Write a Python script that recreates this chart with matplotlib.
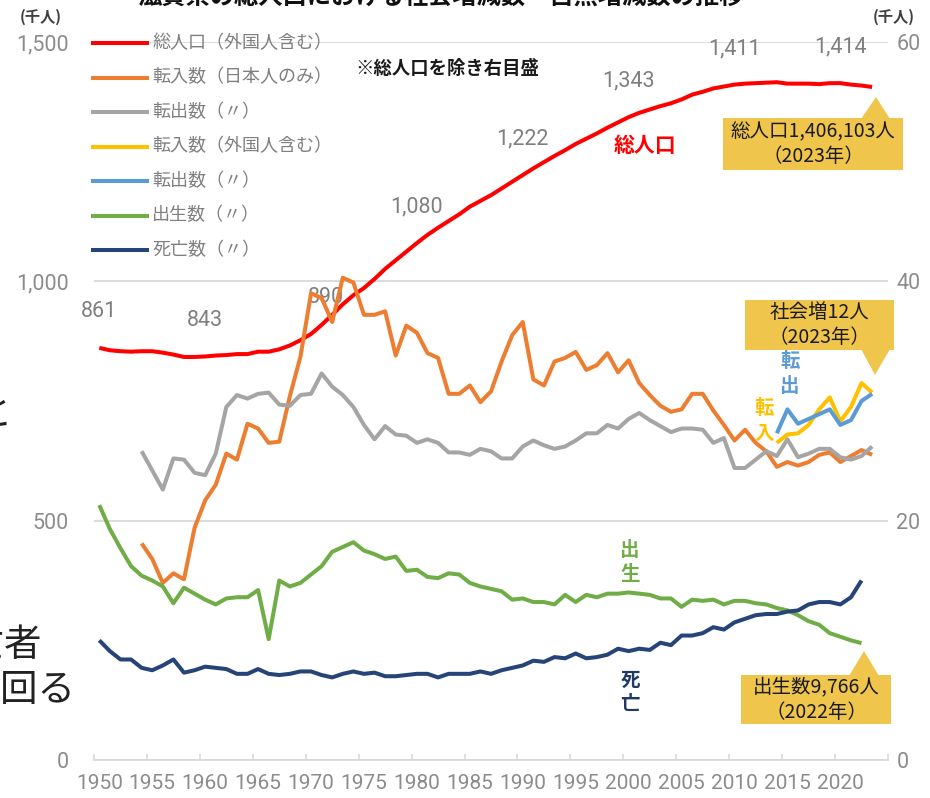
import matplotlib
matplotlib.use('Agg')
import matplotlib.pyplot as plt
from matplotlib.lines import Line2D
from matplotlib.patches import Polygon, Rectangle

plt.rcParams['font.family'] = ['Noto Sans CJK JP', 'DejaVu Sans']

# ---------------- data (thousands) ----------------
years_pop = list(range(1950, 2024))
total_pop = [861, 856, 854, 853, 854, 854, 851, 847, 842, 842,
             843, 845, 846, 848, 848, 853, 853, 858, 866, 877,
             890, 909, 930, 952, 971, 986, 1005, 1026, 1044, 1062,
             1080, 1097, 1112, 1126, 1140, 1156, 1168, 1180, 1194, 1208,
             1222, 1236, 1249, 1262, 1274, 1287, 1298, 1309, 1321, 1332,
             1343, 1352, 1359, 1366, 1372, 1380, 1390, 1396, 1403, 1407,
             1411, 1413, 1414, 1415, 1416, 1413, 1413, 1413, 1412, 1414,
             1414, 1411, 1409, 1406]

years_mig = list(range(1954, 2024))
in_jp = [18.1, 16.8, 14.8, 15.6, 15.1, 19.4,
         21.7, 23.0, 25.6, 25.1, 28.1, 27.7, 26.5, 26.6, 30.4, 33.7,
         39.0, 38.6, 36.6, 40.3, 39.9, 37.2, 37.2, 37.5, 33.8, 36.3,
         35.7, 34.0, 33.6, 30.6, 30.6, 31.3, 29.9, 30.8, 33.3, 35.5,
         36.6, 31.8, 31.3, 33.3, 33.6, 34.1, 32.6, 33.0, 34.0, 32.4,
         33.4, 31.5, 30.5, 29.6, 29.1, 29.3, 30.6, 30.6, 29.2, 28.0,
         26.7, 27.6, 26.5, 25.8, 24.5, 24.9, 24.6, 24.9, 25.5, 25.7,
         24.9, 25.4, 25.9, 25.5]
out_jp = [25.8, 24.2, 22.6, 25.2, 25.1, 24.0,
          23.8, 25.6, 29.5, 30.5, 30.2, 30.6, 30.7, 29.7, 29.6, 30.5,
          30.6, 32.3, 31.2, 30.5, 29.5, 28.0, 26.8, 27.9, 27.2, 27.1,
          26.5, 26.8, 26.5, 25.7, 25.7, 25.5, 26.0, 25.8, 25.2, 25.2,
          26.2, 26.7, 26.3, 26.0, 26.2, 26.7, 27.3, 27.3, 28.0, 27.7,
          28.5, 29.0, 28.4, 27.9, 27.4, 27.7, 27.7, 27.6, 26.5, 26.9,
          24.4, 24.4, 25.1, 25.8, 25.4, 26.8, 25.3, 25.6, 26.0, 26.0,
          25.3, 25.1, 25.4, 26.2]

years_all = list(range(2014, 2024))
in_all = [26.5, 27.2, 27.3, 28.0, 29.3, 30.3, 28.3, 29.5, 31.5, 30.7]
out_all = [27.3, 29.3, 28.1, 28.5, 28.9, 29.3, 28.0, 28.4, 30.0, 30.6]

years_vital = list(range(1950, 2023))
births = [21.3, 19.3, 17.7, 16.2, 15.4, 15.0, 14.5, 13.1, 14.4, 13.9,
          13.4, 13.0, 13.5, 13.6, 13.6, 14.2, 10.1, 15.0, 14.5, 14.8,
          15.5, 16.2, 17.4, 17.8, 18.2, 17.5, 17.2, 16.8, 17.0, 15.8,
          15.9, 15.3, 15.2, 15.6, 15.5, 14.8, 14.5, 14.3, 14.1, 13.4,
          13.5, 13.2, 13.2, 13.0, 13.8, 13.2, 13.8, 13.6, 13.9, 13.9,
          14.0, 13.9, 13.8, 13.5, 13.5, 12.8, 13.4, 13.3, 13.4, 13.0,
          13.3, 13.3, 13.1, 13.0, 12.7, 12.5, 12.1, 11.6, 11.3, 10.6,
          10.3, 10.0, 9.766]
deaths = [10.0, 9.1, 8.4, 8.4, 7.7, 7.5, 7.9, 8.4, 7.3, 7.5,
          7.8, 7.7, 7.6, 7.2, 7.2, 7.6, 7.2, 7.1, 7.2, 7.4,
          7.4, 7.1, 6.9, 7.2, 7.4, 7.2, 7.3, 7.0, 7.0, 7.1,
          7.2, 7.2, 6.9, 7.2, 7.2, 7.2, 7.4, 7.2, 7.5, 7.7,
          7.9, 8.3, 8.2, 8.6, 8.5, 8.9, 8.5, 8.6, 8.8, 9.3,
          9.1, 9.3, 9.2, 9.8, 9.6, 10.4, 10.4, 10.6, 11.1, 10.9,
          11.5, 11.8, 12.1, 12.2, 12.2, 12.4, 12.5, 13.0, 13.2, 13.2,
          13.0, 13.6, 15.0]

label_years = [1950, 1960, 1970, 1980, 1990, 2000, 2010, 2020]
legend_labels = ['総人口（外国人含む）', '転入数（日本人のみ）', '転出数（〃）',
                 '転入数（外国人含む）', '転出数（〃）', '出生数（〃）', '死亡数（〃）']
x_tick_years = list(range(1950, 2021, 5))
left_ticks = [0, 500, 1000, 1500]
right_ticks = [0, 20, 40, 60]

colors = ['#FF0000', '#ED7D31', '#A5A5A5', '#FFC000', '#5B9BD5', '#70AD47', '#264478']

# ---------------- figure ----------------
W, H = 930, 798
fig = plt.figure(figsize=(W / 100, H / 100), dpi=100)


def fx(x):
    return x / W


def fy(y):
    return 1 - y / H


NUM = dict(family=['Roboto', 'DejaVu Sans'], fontweight='normal')
TICK_GRAY = '#8c8c8c'

ax = fig.add_axes([fx(94), fy(760), (888 - 94) / W, (760 - 42) / H])
ax2 = ax.twinx()
ax.set_xlim(1949.5, 2024.5)
ax.set_ylim(0, 1500)
ax2.set_ylim(0, 60)

for a in (ax, ax2):
    for s in a.spines.values():
        s.set_visible(False)
ax.spines['bottom'].set_visible(True)
ax.spines['bottom'].set_color('#d9d9d9')
ax.spines['bottom'].set_linewidth(1.3)

ax.set_yticks(left_ticks)
ax.set_yticklabels([f'{v:,}' for v in left_ticks], fontsize=15.5, color=TICK_GRAY, **NUM)
ax.tick_params(axis='y', length=0, pad=18)
ax.yaxis.grid(True, color='#d9d9d9', lw=1.3)
ax.set_axisbelow(True)

ax2.set_yticks(right_ticks)
ax2.set_yticklabels([str(v) for v in right_ticks], fontsize=15.5, color=TICK_GRAY, **NUM)
ax2.tick_params(axis='y', length=0, pad=6)

ax.set_xticks(x_tick_years)
ax.set_xticklabels([str(y) for y in x_tick_years], fontsize=15, color=TICK_GRAY, **NUM)
ax.set_xticks([1949.5 + 5 * k for k in range(16)], minor=True)
ax.tick_params(axis='x', which='major', length=0, pad=10)
ax.tick_params(axis='x', which='minor', length=4, width=1.2, color='#d9d9d9', direction='in')

LW = 2.9
kw = dict(lw=LW, solid_joinstyle='round', solid_capstyle='butt')
ax.plot(years_pop, total_pop, color=colors[0], zorder=3, **kw)
ax2.plot(years_mig, in_jp, color=colors[1], **kw)
ax2.plot(years_mig, out_jp, color=colors[2], **kw)
ax2.plot(years_all, in_all, color=colors[3], **kw)
ax2.plot(years_all, out_all, color=colors[4], **kw)
ax2.plot(years_vital, births, color=colors[5], **kw)
ax2.plot(years_vital, deaths, color=colors[6], **kw)

# data labels on total population
for yr in label_years:
    v = total_pop[years_pop.index(yr)]
    dx = 15 if yr == 1970 else 0
    ax.annotate(f'{v:,}', (yr, v), xytext=(dx, 36), textcoords='offset pixels',
                ha='center', va='center', fontsize=15.5, color='#7f7f7f', **NUM)

# legend (manual)
for i, (lab, c) in enumerate(zip(legend_labels, colors)):
    y = 43 + i * 34.5
    fig.add_artist(Line2D([fx(93), fx(147)], [fy(y), fy(y)], color=c, lw=LW,
                          transform=fig.transFigure))
    fig.text(fx(152), fy(y), lab, ha='left', va='center', fontsize=13, color='#7f7f7f')

fig.text(fx(355), fy(68), '※総人口を除き右目盛', ha='left', va='center',
         fontsize=13.2, fontweight='bold', color='#1a1a1a')

# axis unit labels
fig.text(fx(41), fy(17), '(千人)', ha='center', va='center', fontsize=11,
         fontweight='bold', color='#404040')
fig.text(fx(894), fy(17), '(千人)', ha='center', va='center', fontsize=11,
         fontweight='bold', color='#404040')

# in-chart series labels
fig.text(fx(645), fy(145), '総人口', ha='center', va='center', fontsize=15,
         fontweight='bold', color=colors[0])
for ch, (x, y) in zip('転出', [(790, 362), (790, 387)]):
    fig.text(fx(x), fy(y), ch, ha='center', va='center', fontsize=14, fontweight='bold', color=colors[4])
for ch, (x, y) in zip('転入', [(764, 408), (764, 434)]):
    fig.text(fx(x), fy(y), ch, ha='center', va='center', fontsize=14, fontweight='bold', color=colors[3])
for ch, (x, y) in zip('出生', [(630, 550), (630, 575)]):
    fig.text(fx(x), fy(y), ch, ha='center', va='center', fontsize=14, fontweight='bold', color=colors[5])
for ch, (x, y) in zip('死亡', [(630, 680), (630, 704)]):
    fig.text(fx(x), fy(y), ch, ha='center', va='center', fontsize=14, fontweight='bold', color='#1F3864')

# callouts
GOLD = '#F0C54C'


def callout(x0, x1, y0, y1, tri, text):
    fig.add_artist(Rectangle((fx(x0), fy(y1)), (x1 - x0) / W, (y1 - y0) / H,
                             transform=fig.transFigure, facecolor=GOLD, edgecolor='none'))
    fig.add_artist(Polygon([(fx(px), fy(py)) for px, py in tri], closed=True,
                           transform=fig.transFigure, facecolor=GOLD, edgecolor='none'))
    fig.text(fx((x0 + x1) / 2), fy((y0 + y1) / 2), text, ha='center', va='center',
             fontsize=14, color='#1a1a1a', linespacing=1.25)


callout(723, 903, 118, 170, [(861, 119), (890, 119), (876, 97)], '総人口1,406,103人\n（2023年）')
callout(745, 894, 300, 350, [(861, 349), (890, 349), (875, 375)], '社会増12人\n（2023年）')
callout(741, 891, 675, 724, [(849, 676), (879, 676), (864, 651)], '出生数9,766人\n（2022年）')

# cropped title and side text fragments from the source slide (cut off in the reference too)
fig.text(fx(440), fy(9), '滋賀県の総人口における社会増減数・自然増減数の推移', ha='center',
         va='bottom', fontsize=17.5, fontweight='bold', color='#111111')
fig.text(fx(12), fy(415), 'と', ha='right', va='center', fontsize=27, color='#222222')
fig.text(fx(42), fy(645), '死亡者', ha='right', va='center', fontsize=27, color='#222222')
fig.text(fx(75), fy(690), 'を上回る', ha='right', va='center', fontsize=27, color='#222222')

fig.savefig('out.png', dpi=100)
